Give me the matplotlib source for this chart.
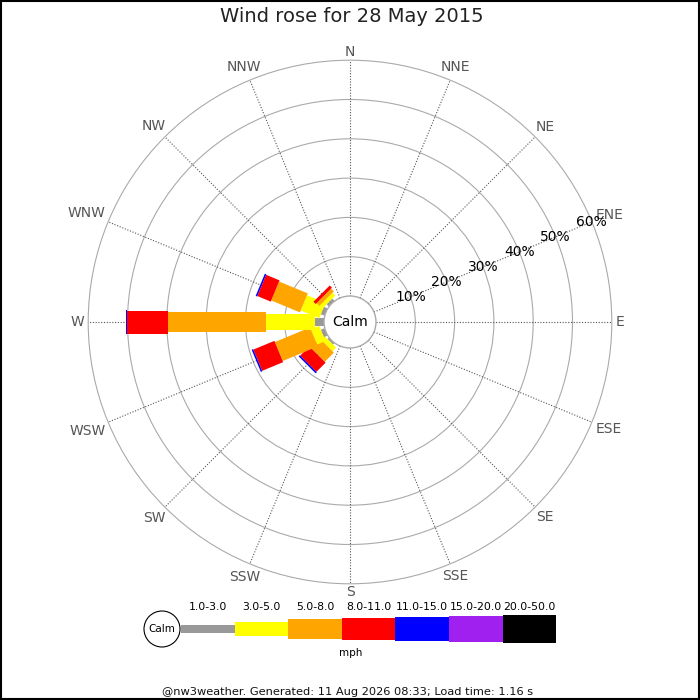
import numpy as np
import matplotlib
matplotlib.use("Agg")
import matplotlib.pyplot as plt
from matplotlib.patches import Circle, Polygon, Rectangle

# --- data -----------------------------------------------------------------
directions = ["N", "NNE", "NE", "ENE", "E", "ESE", "SE", "SSE",
              "S", "SSW", "SW", "WSW", "W", "WNW", "NW", "NNW"]
speed_bins = ["1.0-3.0", "3.0-5.0", "5.0-8.0", "8.0-11.0",
              "11.0-15.0", "15.0-20.0", "20.0-50.0"]
bin_colors = ["#999999", "#ffff00", "#ffa500", "#ff0000",
              "#0000ff", "#a020f0", "#000000"]

# percent of time per direction, per speed bin (only non-zero directions)
freq = {
    "SW":  [0.5, 1.3, 3.3, 3.3, 0.4, 0, 0],
    "WSW": [1.0, 2.3, 9.7, 5.8, 0.4, 0, 0],
    "W":   [2.3, 12.5, 24.9, 10.4, 0.4, 0, 0],
    "WNW": [1.0, 5.1, 7.9, 3.7, 0.4, 0, 0],
    "NW":  [0.8, 1.0, 1.0, 0.8, 0, 0, 0],
}
ring_pcts = [10, 20, 30, 40, 50, 60]

title = "Wind rose for 28 May 2015"
footer = "@nw3weather. Generated: 11 Aug 2026 08:33; Load time: 1.16 s"

# --- geometry (pixels) ------------------------------------------------------
W, H = 700, 700
cx, cy = 350, 322          # rose centre in pixels from top-left
px_per_pct = 3.93
calm_px = 26
label_gap_px = 266         # distance from centre to nearest edge of compass label
bar_px = [8, 16.5, 20.5, 23, 24, 26, 28]      # bar thickness in the rose
leg_px = [8, 14, 20.7, 22.7, 23.3, 25.7, 28.3]  # bar thickness in legend

fig = plt.figure(figsize=(7, 7), dpi=100)
renderer = fig.canvas.get_renderer()

# rose axes: data unit = 1 percent
half = 300
ax = fig.add_axes([(cx - half) / W, (H - cy - half) / H, 2 * half / W, 2 * half / H])
lim = half / px_per_pct
ax.set_xlim(-lim, lim)
ax.set_ylim(-lim, lim)
ax.set_aspect("equal")
ax.axis("off")

calm = calm_px / px_per_pct
r_out = calm + ring_pcts[-1]

for p in ring_pcts:
    ax.add_patch(Circle((0, 0), calm + p, fill=False, ec="#aaaaaa", lw=0.8, zorder=1))

for i, d in enumerate(directions):
    a = np.deg2rad(i * 22.5)
    ux, uy = np.sin(a), np.cos(a)
    ax.plot([calm * ux, r_out * ux], [calm * uy, r_out * uy],
            ls=(0, (1, 1.5)), color="#555555", lw=0.8, zorder=1)
    t = ax.text(0, 0, d, ha="center", va="center",
                fontsize=10, color="#555555", zorder=5)
    bb = t.get_window_extent(renderer)
    # text box includes descent, so only part of the height counts
    hw, hh = bb.width / 2, bb.height / 2 * 0.6
    rl = (label_gap_px + hw * abs(ux) + hh * abs(uy)) / px_per_pct
    t.set_position((rl * ux, rl * uy))

# percent labels along ENE spoke
a = np.deg2rad(67.5)
for p in ring_pcts:
    r = calm + p
    ax.text(r * np.sin(a), r * np.cos(a), f"{p}%", ha="center", va="center",
            fontsize=10, color="black", zorder=5)

# bars
for d, vals in freq.items():
    a = np.deg2rad(directions.index(d) * 22.5)
    ux, uy = np.sin(a), np.cos(a)
    nx, ny = -uy, ux
    start = 0.0
    for j, v in enumerate(vals):
        if v <= 0:
            continue
        r0, r1 = calm + start, calm + start + v
        hw = bar_px[j] / px_per_pct / 2
        pts = [(r0 * ux + hw * nx, r0 * uy + hw * ny),
               (r1 * ux + hw * nx, r1 * uy + hw * ny),
               (r1 * ux - hw * nx, r1 * uy - hw * ny),
               (r0 * ux - hw * nx, r0 * uy - hw * ny)]
        ax.add_patch(Polygon(pts, closed=True, fc=bin_colors[j], ec="none", zorder=3))
        start += v

ax.add_patch(Circle((0, 0), calm, fc="white", ec="#aaaaaa", lw=1.0, zorder=4))
ax.text(0, 0, "Calm", ha="center", va="center", fontsize=10, zorder=5)

# overlay axes in pixel coordinates for title, legend, footer
ov = fig.add_axes([0, 0, 1, 1])
ov.set_xlim(0, W)
ov.set_ylim(H, 0)
ov.axis("off")
ov.patch.set_alpha(0)

ov.text(352, 17, title, ha="center", va="center", fontsize=14, color="#222222")

leg_x0, leg_step, leg_y = 181, 53.6, 629
ov.add_patch(Circle((162, leg_y), 18, fc="white", ec="black", lw=0.8))
ov.text(162, leg_y, "Calm", ha="center", va="center", fontsize=7.5)
for j, lab in enumerate(speed_bins):
    x = leg_x0 + j * leg_step
    ov.add_patch(Rectangle((x, leg_y - leg_px[j] / 2), leg_step, leg_px[j],
                           fc=bin_colors[j], ec="none"))
    ov.text(x + leg_step / 2, 606.5, lab, ha="center", va="center", fontsize=7.8)
ov.text(351, 653, "mph", ha="center", va="center", fontsize=7.5)

ov.text(348, 692, footer, ha="center", va="center", fontsize=8.2, color="#111111")

ov.add_patch(Rectangle((0.75, 0.75), W - 1.5, H - 1.5, fill=False, ec="black", lw=1.5))

fig.savefig("out.png", dpi=100)
